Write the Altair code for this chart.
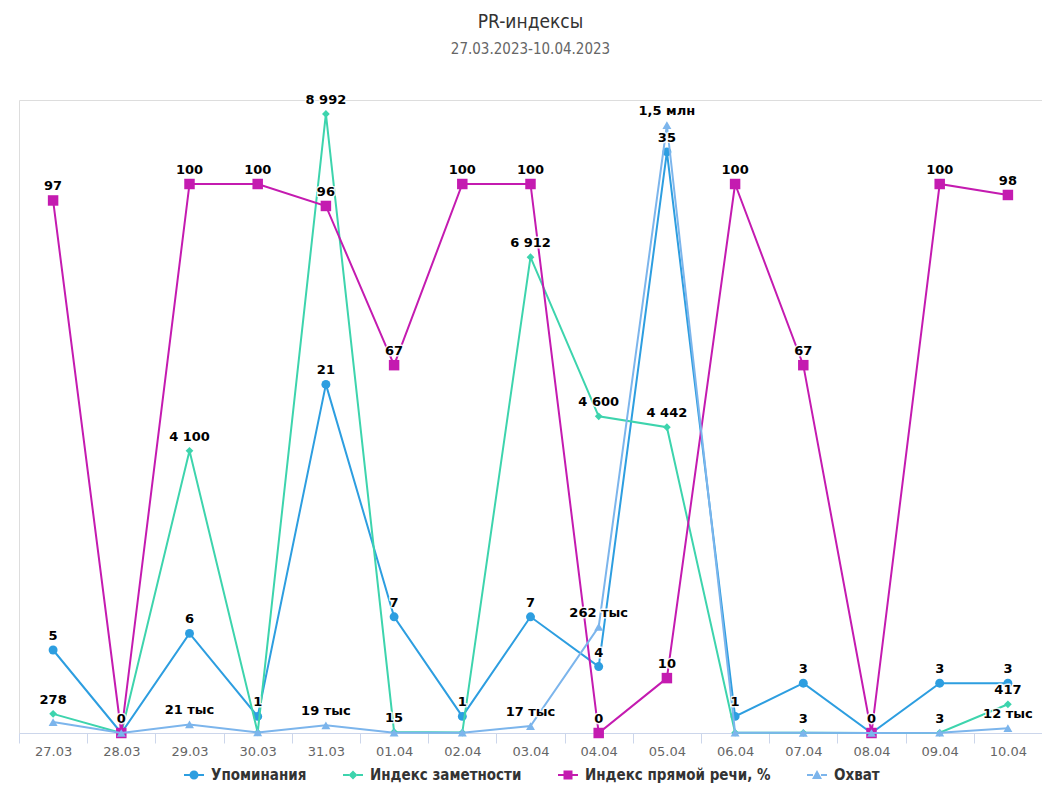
import altair as alt
import pandas as pd

# ---------------- data ----------------
dates = ["27.03", "28.03", "29.03", "30.03", "31.03", "01.04", "02.04", "03.04",
         "04.04", "05.04", "06.04", "07.04", "08.04", "09.04", "10.04"]

series_names = ["Упоминания", "Индекс заметности", "Индекс прямой речи, %", "Охват"]

mentions = [5, 0, 6, 1, 21, 7, 1, 7, 4, 35, 1, 3, 0, 3, 3]
mentions_labels = ["5", "0", "6", "1", "21", "7", "1", "7", "4", "35", "1", "3", "0", "3", "3"]

visibility = [278, 0, 4100, 8, 8992, 15, 6, 6912, 4600, 4442, 5, 3, 0, 3, 417]
visibility_labels = ["278", "", "4 100", "", "8 992", "15", "", "6 912", "4 600", "4 442",
                     "", "3", "", "3", "417"]

speech = [97, 0, 100, 100, 96, 67, 100, 100, 0, 10, 100, 67, 0, 100, 98]
speech_labels = ["97", "", "100", "100", "96", "67", "100", "100", "0", "10", "100", "67",
                 "", "100", "98"]

reach = [27000, 0, 21000, 1500, 19000, 900, 700, 17000, 262000, 1500000, 800, 600, 0, 700, 12000]
reach_labels = ["", "", "21 тыс", "", "19 тыс", "", "", "17 тыс", "262 тыс", "1,5 млн",
                "", "", "", "", "12 тыс"]

values = [mentions, visibility, speech, reach]
labels = [mentions_labels, visibility_labels, speech_labels, reach_labels]

rows = []
for name, vals, labs in zip(series_names, values, labels):
    for d, v, l in zip(dates, vals, labs):
        rows.append({"date": d, "series": name, "value": v, "label": l})
df = pd.DataFrame(rows)

# ---------------- styling ----------------
colors = ["#2d9ee0", "#3dd4ad", "#c41bb0", "#7cb5ec"]
shapes = ["circle", "diamond", "square", "triangle-up"]
sizes = [80, 60, 110, 80]
# upper end of each hidden y scale (each series has its own scale)
y_tops = [38.13, 9195, 115.3, 1561700]

legend_paths = [
    "M-1,-0.1H-0.4V0.1H-1Z M0.4,-0.1H1V0.1H0.4Z M0.45,0A0.45,0.45 0 1 1 -0.45,0A0.45,0.45 0 1 1 0.45,0Z",
    "M-1,-0.1H-0.4V0.1H-1Z M0.4,-0.1H1V0.1H0.4Z M0,-0.45L0.45,0L0,0.45L-0.45,0Z",
    "M-1,-0.1H-0.4V0.1H-1Z M0.4,-0.1H1V0.1H0.4Z M-0.45,-0.45H0.45V0.45H-0.45Z",
    "M-1,-0.1H-0.4V0.1H-1Z M0.4,-0.1H1V0.1H0.4Z M0,-0.5L0.5,0.4H-0.5Z",
]

W, H = 1023, 633

x_enc = alt.X(
    "date:N", sort=dates, bandPosition=0.5,
    scale=alt.Scale(type="band", paddingInner=0, paddingOuter=0),
    axis=alt.Axis(title=None, labelAngle=0, tickBand="extent", domainColor="#ccd6eb",
                  tickColor="#ccd6eb", tickSize=10, labelColor="#666666", labelFontSize=13,
                  labelFont="DejaVu Sans", labelPadding=2, grid=False),
)

base = alt.Chart(df)
series_layers = []
text_layers = []
for name, col, shp, sz, top in zip(series_names, colors, shapes, sizes, y_tops):
    y_enc = alt.Y("value:Q", scale=alt.Scale(domain=[0, top], nice=False, zero=True), axis=None)
    sub = base.transform_filter(alt.datum.series == name)
    series_layers.append(sub.mark_line(color=col, strokeWidth=2).encode(x=x_enc, y=y_enc))
    series_layers.append(sub.mark_point(filled=True, shape=shp, size=sz, color=col, opacity=1)
                         .encode(x=x_enc, y=y_enc))
    text_layers.append(sub.mark_text(font="DejaVu Sans", fontSize=13, fontWeight="bold",
                                     dy=-14, baseline="middle", fill="white", stroke="white",
                                     strokeWidth=3, strokeJoin="round", strokeOpacity=0.85)
                       .encode(x=x_enc, y=y_enc, text="label:N"))
    text_layers.append(sub.mark_text(font="DejaVu Sans", fontSize=13, fontWeight="bold",
                                     dy=-14, baseline="middle", color="#000000")
                       .encode(x=x_enc, y=y_enc, text="label:N"))

legend_props = dict(title=None, orient="none", legendX=165, legendY=665, direction="horizontal",
                    columns=4, columnPadding=36, symbolSize=400, symbolStrokeWidth=0,
                    labelFont="DejaVu Sans Condensed", labelFontSize=15, labelFontWeight="bold",
                    labelColor="#333333", labelOffset=7, labelLimit=300)

legend_layer = base.transform_filter("false").mark_point(filled=True, opacity=1).encode(
    color=alt.Color("series:N", scale=alt.Scale(domain=series_names, range=colors),
                    legend=alt.Legend(**legend_props)),
    shape=alt.Shape("series:N", scale=alt.Scale(domain=series_names, range=legend_paths),
                    legend=alt.Legend(**legend_props)),
)

chart = alt.layer(*series_layers, *text_layers, legend_layer).resolve_scale(
    y="independent"
).properties(
    width=W, height=H,
    title=alt.TitleParams(text="PR-индексы", subtitle="27.03.2023-10.04.2023", anchor="middle",
                          frame="group", font="DejaVu Sans Condensed", fontSize=19,
                          fontWeight="normal", color="#333333",
                          subtitleFont="DejaVu Sans Condensed", subtitleFontSize=15,
                          subtitleColor="#666666", subtitlePadding=10, offset=37),
    autosize=alt.AutoSizeParams(type="none"),
    padding={"left": 11, "top": 92, "right": 0, "bottom": 55},
).configure_view(stroke=None).configure(background="white")

chart.save("out.html", embed_options={"renderer": "svg", "actions": False})
